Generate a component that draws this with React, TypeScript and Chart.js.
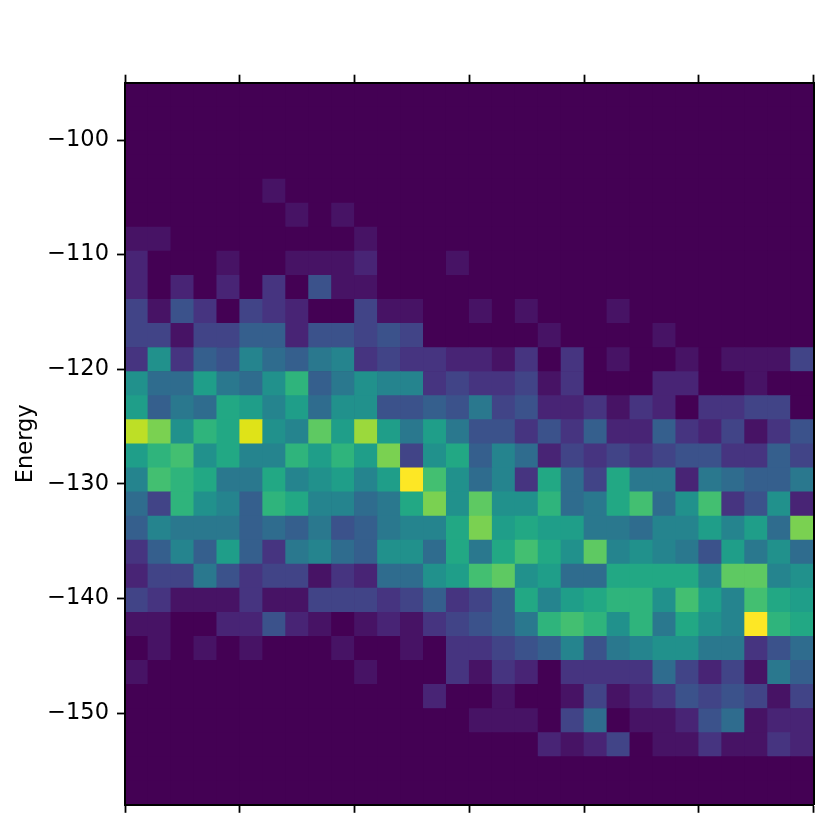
import React, { useEffect, useRef } from "react";
import { Chart, registerables } from "chart.js";

Chart.register(...registerables);

const binCount = 30;
const energyBottom = -158;
const energyTop = -95;
const energyTicks = [-150, -140, -130, -120, -110, -100];
const xTicks = [0, 5, 10, 15, 20, 25, 30];

const viridis = [
  "#440154", "#471365", "#482475", "#463480", "#414487", "#3b528b", "#355f8d",
  "#2f6c8e", "#2a788e", "#25848e", "#21918c", "#1f9e89", "#22a884", "#2fb47c",
  "#43bf71", "#5ec962", "#7ad151", "#9bd93c", "#bddf26", "#dfe318", "#fde725",
];

// Counts per cell, top row first.
const counts = [
  [0,0,0,0,0,0,0,0,0,0,0,0,0,0,0,0,0,0,0,0,0,0,0,0,0,0,0,0,0,0],
  [0,0,0,0,0,0,0,0,0,0,0,0,0,0,0,0,0,0,0,0,0,0,0,0,0,0,0,0,0,0],
  [0,0,0,0,0,0,0,0,0,0,0,0,0,0,0,0,0,0,0,0,0,0,0,0,0,0,0,0,0,0],
  [0,0,0,0,0,0,0,0,0,0,0,0,0,0,0,0,0,0,0,0,0,0,0,0,0,0,0,0,0,0],
  [0,0,0,0,0,0,1,0,0,0,0,0,0,0,0,0,0,0,0,0,0,0,0,0,0,0,0,0,0,0],
  [0,0,0,0,0,0,0,1,0,1,0,0,0,0,0,0,0,0,0,0,0,0,0,0,0,0,0,0,0,0],
  [1,1,0,0,0,0,0,0,0,0,1,0,0,0,0,0,0,0,0,0,0,0,0,0,0,0,0,0,0,0],
  [2,0,0,0,1,0,0,1,1,1,2,0,0,0,1,0,0,0,0,0,0,0,0,0,0,0,0,0,0,0],
  [2,0,2,0,2,0,3,0,5,1,1,0,0,0,0,0,0,0,0,0,0,0,0,0,0,0,0,0,0,0],
  [4,1,5,3,0,4,3,2,0,0,4,1,1,0,0,1,0,1,0,0,0,1,0,0,0,0,0,0,0,0],
  [4,4,1,4,4,6,6,2,5,5,4,5,4,0,0,0,0,0,1,0,0,0,0,1,0,0,0,0,0,0],
  [3,10,3,6,5,9,7,6,8,9,3,4,3,3,2,2,1,3,0,3,0,1,0,0,1,0,1,1,1,4],
  [10,7,7,11,8,7,10,13,6,8,10,9,9,3,4,3,3,4,1,3,0,0,0,2,2,0,0,1,0,0],
  [11,6,8,7,12,11,9,11,7,10,10,5,5,6,5,8,4,5,2,2,3,1,3,2,0,3,3,4,4,0],
  [18,16,10,13,12,19,10,9,15,11,17,11,8,11,8,5,5,3,5,3,6,2,2,6,3,2,4,1,3,5],
  [11,13,14,10,12,9,9,13,11,13,11,16,4,10,12,6,9,7,2,4,3,4,3,4,5,5,3,3,6,4],
  [9,14,13,12,8,8,12,9,10,11,9,11,20,14,10,7,9,3,12,7,4,12,8,8,2,8,7,6,6,8],
  [7,4,13,10,9,6,13,12,9,9,7,8,12,16,10,15,10,10,13,7,8,12,14,7,10,14,3,5,10,2],
  [6,9,8,8,8,6,7,6,8,5,6,8,9,9,12,16,11,12,11,11,8,8,7,9,9,11,9,11,7,16],
  [3,6,9,6,11,6,3,8,9,7,6,10,10,7,12,8,12,14,12,10,15,9,10,9,8,5,11,8,10,7],
  [2,4,4,8,5,3,4,4,1,3,2,7,7,10,11,14,15,10,11,7,7,12,12,12,12,9,15,15,9,10],
  [4,3,1,1,1,3,1,1,4,4,4,3,4,6,3,4,6,12,9,11,12,13,13,10,14,11,9,14,12,11],
  [1,1,0,0,2,2,5,2,1,0,1,2,1,3,4,5,6,8,13,14,13,10,13,8,12,10,9,20,13,12],
  [0,1,0,1,0,1,0,0,0,1,0,0,1,0,3,3,4,5,6,9,5,8,9,10,10,8,8,3,5,7],
  [1,0,0,0,0,0,0,0,0,0,1,0,0,0,3,1,3,2,0,3,3,3,3,7,4,2,4,1,8,6],
  [0,0,0,0,0,0,0,0,0,0,0,0,0,2,0,0,1,0,0,1,4,1,2,3,5,4,5,4,1,4],
  [0,0,0,0,0,0,0,0,0,0,0,0,0,0,0,1,1,1,0,4,7,0,1,1,2,5,7,1,2,2],
  [0,0,0,0,0,0,0,0,0,0,0,0,0,0,0,0,0,0,2,1,2,4,0,1,1,3,1,1,3,2],
  [0,0,0,0,0,0,0,0,0,0,0,0,0,0,0,0,0,0,0,0,0,0,0,0,0,0,0,0,0,0],
  [0,0,0,0,0,0,0,0,0,0,0,0,0,0,0,0,0,0,0,0,0,0,0,0,0,0,0,0,0,0],
];

const FONT = "'DejaVu Sans'";
const INK = "#000000";

const plotBackground = {
  id: "plotBackground",
  beforeDatasetsDraw(chart: any) {
    const { ctx, chartArea } = chart;
    ctx.save();
    ctx.fillStyle = viridis[0];
    ctx.fillRect(chartArea.left, chartArea.top, chartArea.width, chartArea.height);
    ctx.restore();
  },
};

export default function App() {
  const ref = useRef<HTMLCanvasElement | null>(null);

  useEffect(() => {
    if (!ref.current) return;
    const rowHeight = (energyTop - energyBottom) / binCount;
    const cells = counts.flatMap((row, r) =>
      row.map((count, c) => ({
        x: c + 0.5,
        y: [energyTop - (r + 1) * rowHeight, energyTop - r * rowHeight],
        count,
      }))
    );
    const fixedSize = (prop: "width" | "height", size: number) => (scale: any) => {
      scale[prop] = size;
    };
    const sideScale = {
      type: "linear" as const,
      min: 0,
      max: binCount,
      offset: false,
      afterBuildTicks: (scale: any) => {
        scale.ticks = xTicks.map((value) => ({ value }));
      },
      ticks: { display: false, autoSkip: false },
      grid: {
        offset: false,
        drawOnChartArea: false,
        drawTicks: true,
        tickLength: 8,
        tickWidth: 1.8,
        tickColor: INK,
      },
      border: { display: true, color: INK, width: 2, z: 1 },
    };
    const chart = new Chart(ref.current, {
      type: "bar",
      plugins: [plotBackground],
      data: {
        datasets: [
          {
            data: cells as any,
            backgroundColor: (ctx: any) => viridis[ctx.raw?.count ?? 0],
            borderWidth: 0,
            barPercentage: 1,
            categoryPercentage: 1,
            grouped: false,
            xAxisID: "x",
            yAxisID: "y",
          } as any,
        ],
      },
      options: {
        responsive: false,
        animation: false,
        layout: { padding: 0 },
        plugins: { legend: { display: false }, tooltip: { enabled: false } },
        scales: {
          x: { ...sideScale, position: "bottom", afterFit: fixedSize("height", 25.2) },
          xTop: { ...sideScale, position: "top", afterFit: fixedSize("height", 82.7) },
          y: {
            type: "linear",
            position: "left",
            min: energyBottom,
            max: energyTop,
            afterFit: fixedSize("width", 125),
            afterBuildTicks: (scale: any) => {
              scale.ticks = energyTicks.map((value) => ({ value }));
            },
            ticks: {
              autoSkip: false,
              color: INK,
              padding: 8,
              font: { family: FONT, size: 22.5 },
              callback: (v: any) => String(v).replace("-", "\u2212"),
            },
            title: {
              display: true,
              text: "Energy",
              color: INK,
              font: { family: FONT, size: 22.5 },
              padding: { top: 13, bottom: 0 },
            },
            grid: {
              drawOnChartArea: false,
              drawTicks: true,
              tickLength: 8,
              tickWidth: 1.8,
              tickColor: INK,
            },
            border: { display: true, color: INK, width: 2, z: 1 },
          },
          yRight: {
            type: "linear",
            position: "right",
            min: energyBottom,
            max: energyTop,
            afterFit: fixedSize("width", 16.5),
            ticks: { display: false },
            grid: { drawOnChartArea: false, drawTicks: false },
            border: { display: true, color: INK, width: 2, z: 1 },
          },
        },
      },
    });
    return () => chart.destroy();
  }, []);

  return (
    <div style={{ position: "absolute", left: 0, top: 0, width: 830, height: 830, background: "#ffffff" }}>
      <canvas ref={ref} width={830} height={830} style={{ display: "block" }} />
    </div>
  );
}
